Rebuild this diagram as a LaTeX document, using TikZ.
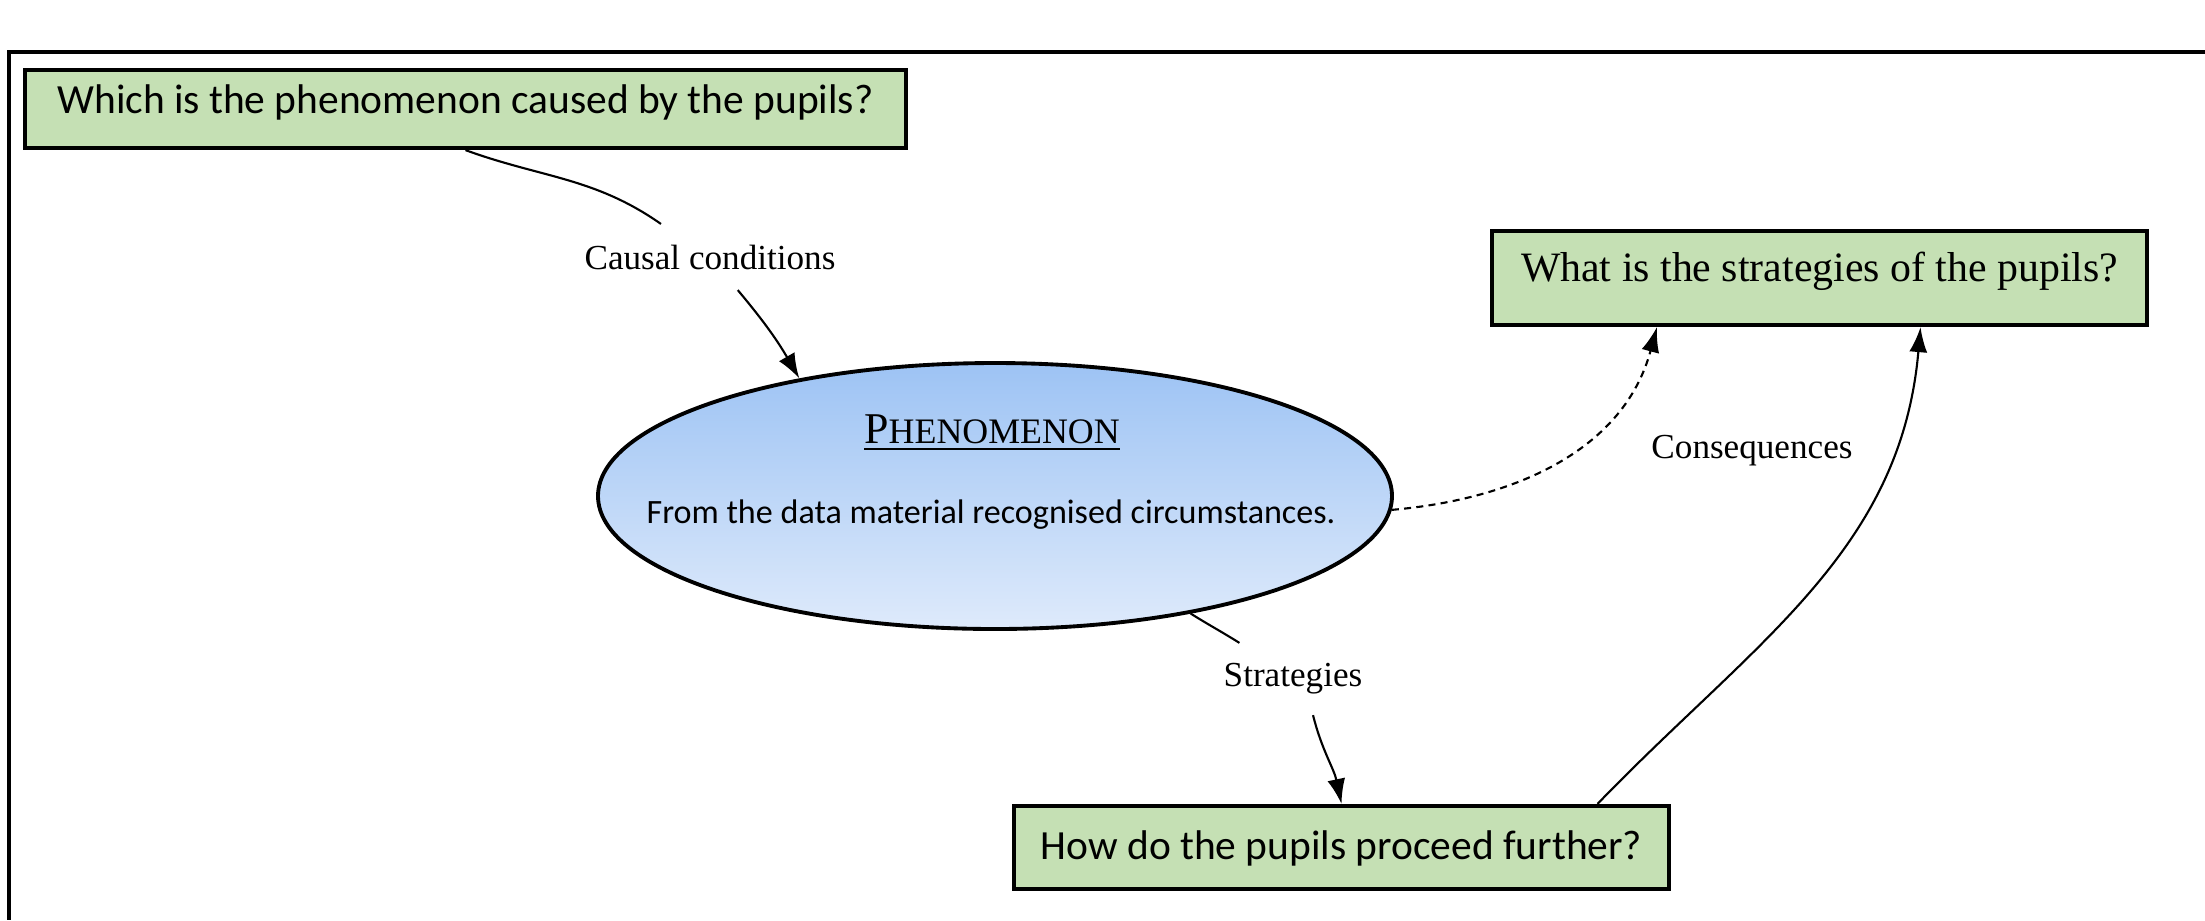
\documentclass[tikz,border=0pt]{standalone}
\usepackage{fontspec}
\setmainfont{Liberation Serif}
\setsansfont{Carlito}
\usetikzlibrary{arrows.meta,calc,shapes.geometric}

\definecolor{boxgreen}{RGB}{197,224,180}
\definecolor{phtop}{RGB}{157,195,244}
\definecolor{phbot}{RGB}{222,234,251}

\tikzset{
  qbox/.style={draw=black, line width=1.2pt, fill=boxgreen, inner sep=0pt, text height=0.3cm},
  lbl/.style={font=\fontsize{10}{12}\selectfont, inner xsep=2pt, inner ysep=0.2cm},
  conn/.style={line width=0.6pt},
  tip/.style={-{Latex[length=2.5mm,width=1.8mm]}}
}

\begin{document}
\begin{tikzpicture}
\useasboundingbox (0,0) rectangle (22.05,-9.2);
% frame, only top and left edge are seen
\draw[line width=1.2pt] (22.05,-0.52) -- (0.09,-0.52) -- (0.09,-9.2);

% question boxes
\node[qbox, minimum width=8.81cm, minimum height=0.78cm, text depth=0.22cm, font=\sffamily\fontsize{11.8}{14}\selectfont] (q1) at (4.655,-1.09) {Which is the phenomenon caused by the pupils?};
\node[qbox, minimum width=6.55cm, minimum height=0.94cm, text depth=0.24cm, font=\fontsize{11.9}{14}\selectfont] (q2) at (18.195,-2.78) {What is the strategies of the pupils?};
\node[qbox, minimum width=6.55cm, minimum height=0.83cm, text depth=0.07cm, font=\sffamily\fontsize{11.8}{14}\selectfont] (q3) at (13.415,-8.475) {How do the pupils proceed further?};

% phenomenon
\node[ellipse, draw=black, line width=1.1pt, top color=phtop, bottom color=phbot, minimum width=7.94cm, minimum height=2.66cm, inner sep=0pt] (phen) at (9.95,-4.96) {};
\node (phtitle) at (9.92,-4.33) {\underline{{\fontsize{12.5}{14}\selectfont P}{\fontsize{10.2}{12}\selectfont HENOMENON}}};
\node[font=\sffamily\fontsize{9.7}{12}\selectfont] (phtext) at (9.91,-5.15) {From the data material recognised circumstances.};

% labels
\node[lbl] (causal) at (7.10,-2.57) {Causal conditions};
\node[lbl] (conseq) at (17.52,-4.51) {Consequences};
\node[lbl] (strat) at (12.93,-6.79) {Strategies};

% connectors
\draw[conn] (q1.south) to[out=-20,in=145] (causal.146);
\draw[conn,tip] (causal.-50) to[out=-50,in=120] (phen.149);
\draw[conn,dash pattern=on 2pt off 1.5pt,tip] (phen.-2) to[out=5,in=-105] ($(q2.south west)+(1.67,0)$);
\draw[conn,tip] ($(q3.north)+(2.56,0)$) to[out=46,in=-95] ($(q2.south)+(1.01,0)$);
\draw[conn] (phen.-31) to[out=-32,in=148] (strat.146);
\draw[conn,tip] (strat.-61) to[out=-76,in=102] (q3.north);
\end{tikzpicture}
\end{document}
